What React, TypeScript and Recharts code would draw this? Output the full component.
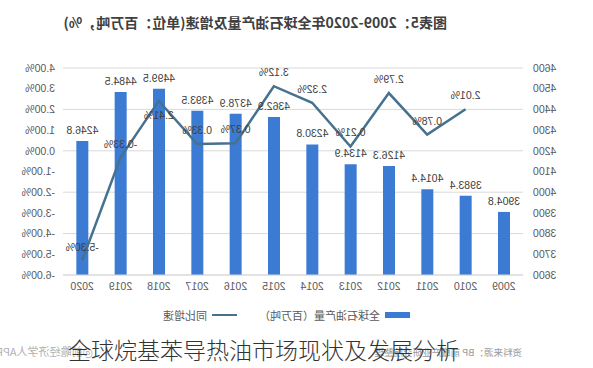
import {
  ComposedChart,
  Bar,
  Line,
  XAxis,
  YAxis,
  CartesianGrid,
  LabelList,
} from "recharts";

const years = ["2009", "2010", "2011", "2012", "2013", "2014", "2015", "2016", "2017", "2018", "2019", "2020"];
const production = [3904.8, 3983.4, 4014.4, 4126.3, 4134.9, 4230.8, 4362.9, 4378.9, 4393.5, 4499.5, 4484.5, 4246.8];
const growth = [null, 2.01, 0.78, 2.79, 0.21, 2.32, 3.12, 0.37, 0.33, 2.41, -0.33, -5.3];
const productionTicks = [3600, 3700, 3800, 3900, 4000, 4100, 4200, 4300, 4400, 4500, 4600];
const growthTicks = [-6, -5, -4, -3, -2, -1, 0, 1, 2, 3, 4];

const BAR_NAME = "全球石油产量（百万吨）";
const LINE_NAME = "同比增速";
const BAR_COLOR = "#3b7bd4";
const LINE_COLOR = "#46718f";
const FONT = "'Liberation Sans', 'Noto Sans CJK SC', sans-serif";
const CJK = "'Noto Sans CJK SC', sans-serif";

const chartData = years.map((y, i) => ({
  year: y,
  production: production[i],
  growth: growth[i],
}));

// growth label sits above the point, except 2018 where the bar label is in the way
function GrowthLabel(props: any) {
  const { x, y, value, index } = props;
  if (value == null) return null;
  const below = years[index] === "2018";
  return (
    <text
      x={x}
      y={below ? y + 18 : y - 10}
      textAnchor="middle"
      fontSize={10.5}
      fill="#404040"
    >
      {`${Number(value).toFixed(2)}%`}
    </text>
  );
}

export default function App() {
  return (
    <div style={{ position: "absolute", left: 0, top: 0, width: 593, height: 368, background: "#fff", overflow: "hidden", fontFamily: FONT }}>
      {/* the reference picture is mirrored left-right */}
      <div style={{ position: "absolute", left: 0, top: 0, width: 593, height: 368, transform: "scaleX(-1)" }}>
        <div style={{ position: "absolute", left: 146, top: 12, fontSize: 14, fontWeight: "bold", color: "#404040", whiteSpace: "nowrap", fontFamily: CJK }}>
          图表5：2009-2020年全球石油产量及增速(单位：百万吨，%)
        </div>

        <div style={{ position: "absolute", left: 0, top: 0 }}>
          <ComposedChart
            width={593}
            height={300}
            data={chartData}
            margin={{ top: 68, right: 3, left: 10, bottom: 5 }}
            barSize={12}
          >
            <CartesianGrid yAxisId="left" vertical={false} stroke="#d9d9d9" />
            <XAxis
              dataKey="year"
              height={20}
              tickLine={false}
              axisLine={{ stroke: "#d9d9d9" }}
              tick={{ fontSize: 10.5, fill: "#595959" }}
            />
            <YAxis
              yAxisId="left"
              width={60}
              domain={[3600, 4600]}
              ticks={productionTicks}
              tickLine={false}
              axisLine={false}
              tickMargin={4}
              tick={{ fontSize: 10.5, fill: "#595959" }}
            />
            <YAxis
              yAxisId="right"
              orientation="right"
              width={60}
              domain={[-6, 4]}
              ticks={growthTicks}
              tickLine={false}
              axisLine={false}
              tickMargin={2}
              tick={{ fontSize: 10.5, fill: "#595959", textAnchor: "start" }}
              tickFormatter={(v: number) => `${v.toFixed(2)}%`}
            />
            <Bar yAxisId="left" dataKey="production" name={BAR_NAME} fill={BAR_COLOR} isAnimationActive={false}>
              <LabelList
                dataKey="production"
                position="top"
                offset={7}
                style={{ fontSize: 10.5, fill: "#404040" }}
                formatter={(v: any) => Number(v).toFixed(1)}
              />
            </Bar>
            <Line
              yAxisId="right"
              dataKey="growth"
              name={LINE_NAME}
              stroke={LINE_COLOR}
              strokeWidth={2.5}
              dot={false}
              isAnimationActive={false}
            >
              <LabelList dataKey="growth" content={<GrowthLabel />} />
            </Line>
          </ComposedChart>
        </div>

        {/* legend */}
        <div style={{ position: "absolute", left: 183, top: 307, height: 16, display: "flex", alignItems: "center", fontSize: 11, color: "#595959", whiteSpace: "nowrap", fontFamily: CJK }}>
          <span style={{ display: "inline-block", width: 25, height: 6, background: BAR_COLOR, marginRight: 5 }} />
          <span>{BAR_NAME}</span>
          <span style={{ display: "inline-block", width: 25, height: 2.5, background: LINE_COLOR, marginLeft: 22, marginRight: 5 }} />
          <span>{LINE_NAME}</span>
        </div>

        {/* source line */}
        <div style={{ position: "absolute", left: 71, top: 345, fontSize: 9.5, color: "#9a9a9a", whiteSpace: "nowrap", fontFamily: CJK }}>
          资料来源：BP 前瞻产业研究院整理
        </div>
        <div style={{ position: "absolute", left: 500, top: 343, fontSize: 11, color: "#b0b0b0", whiteSpace: "nowrap", fontFamily: CJK }}>
          @前瞻经济学人APP
        </div>
      </div>

      {/* overlay caption, not mirrored */}
      <div style={{ position: "absolute", left: 68, top: 334, fontSize: 23, lineHeight: "30px", fontWeight: 300, color: "#333", whiteSpace: "nowrap", fontFamily: CJK }}>
        全球烷基苯导热油市场现状及发展分析
      </div>
    </div>
  );
}
